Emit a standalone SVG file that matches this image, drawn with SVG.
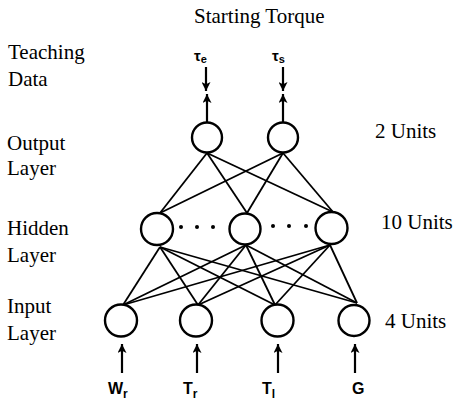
<svg xmlns="http://www.w3.org/2000/svg" width="453" height="403" viewBox="0 0 453 403">
<defs>
<marker id="ah" viewBox="0 0 10 10" refX="10" refY="5" markerWidth="12" markerHeight="9" markerUnits="userSpaceOnUse" orient="auto">
<path d="M0,0 L10,5 L0,10 L2.5,5 z" fill="#000"/>
</marker>
<style>
.lbl{font-family:"Liberation Serif","Times New Roman",serif;font-size:21px;fill:#000}
.sym{font-family:"Liberation Sans",Arial,sans-serif;font-weight:bold;fill:#000}
.node{fill:#fff;stroke:#000;stroke-width:2.4}
.edge{stroke:#000;stroke-width:1.8;fill:none}
.arr{stroke:#000;stroke-width:2.2;fill:none;marker-end:url(#ah)}
</style>
</defs>
<rect width="453" height="403" fill="#fff"/>
<g id="labels">
<text class="lbl" x="194" y="23">Starting Torque</text>
<text class="lbl" x="8" y="59">Teaching</text>
<text class="lbl" x="8" y="86">Data</text>
<text class="lbl" x="7" y="150">Output</text>
<text class="lbl" x="7" y="175">Layer</text>
<text class="lbl" x="7" y="235">Hidden</text>
<text class="lbl" x="7" y="262">Layer</text>
<text class="lbl" x="7" y="313">Input</text>
<text class="lbl" x="7" y="340">Layer</text>
<text class="lbl" x="375" y="138">2 Units</text>
<text class="lbl" x="381" y="229">10 Units</text>
<text class="lbl" x="385" y="328">4 Units</text>
</g>
<g id="connectors">
<line class="edge" x1="207" y1="153" x2="160" y2="213"/>
<line class="edge" x1="207" y1="153" x2="247" y2="213"/>
<line class="edge" x1="207" y1="153" x2="333" y2="212"/>
<line class="edge" x1="283" y1="153" x2="160" y2="213"/>
<line class="edge" x1="283" y1="153" x2="247" y2="213"/>
<line class="edge" x1="283" y1="153" x2="333" y2="212"/>
<line class="edge" x1="160" y1="247" x2="123" y2="305"/>
<line class="edge" x1="160" y1="247" x2="198" y2="305"/>
<line class="edge" x1="160" y1="247" x2="275" y2="305"/>
<line class="edge" x1="160" y1="247" x2="357" y2="303"/>
<line class="edge" x1="246" y1="245" x2="123" y2="305"/>
<line class="edge" x1="246" y1="245" x2="198" y2="305"/>
<line class="edge" x1="246" y1="245" x2="275" y2="305"/>
<line class="edge" x1="246" y1="245" x2="357" y2="303"/>
<line class="edge" x1="330" y1="245" x2="123" y2="305"/>
<line class="edge" x1="330" y1="245" x2="198" y2="305"/>
<line class="edge" x1="330" y1="245" x2="275" y2="305"/>
<line class="edge" x1="330" y1="245" x2="357" y2="303"/>
<line class="arr" x1="206" y1="67" x2="206" y2="91"/>
<line class="arr" x1="283" y1="67" x2="283" y2="91"/>
<line class="arr" x1="207" y1="122" x2="207" y2="94"/>
<line class="arr" x1="283" y1="122" x2="283" y2="94"/>
<line class="arr" x1="122" y1="373" x2="122" y2="344"/>
<line class="arr" x1="197" y1="373" x2="197" y2="344"/>
<line class="arr" x1="278" y1="373" x2="278" y2="344"/>
<line class="arr" x1="355" y1="373" x2="355" y2="344"/>
</g>
<g id="out1"><circle class="node" cx="207" cy="137.5" r="15"/></g>
<g id="out2"><circle class="node" cx="283" cy="137.5" r="15"/></g>
<g id="hid1"><circle class="node" cx="157" cy="229" r="16"/></g>
<g id="hid2"><circle class="node" cx="245" cy="229" r="15.5"/></g>
<g id="hid3"><circle class="node" cx="331.5" cy="228" r="16"/></g>
<g id="dots" fill="#000">
<circle cx="181" cy="227" r="2"/><circle cx="197" cy="227" r="2"/><circle cx="213" cy="227" r="2"/>
<circle cx="273" cy="226" r="2"/><circle cx="289" cy="226" r="2"/><circle cx="306" cy="226" r="2"/>
</g>
<g id="in1"><circle class="node" cx="121" cy="320.5" r="16"/></g>
<g id="in2"><circle class="node" cx="196" cy="320.5" r="16"/></g>
<g id="in3"><circle class="node" cx="277.5" cy="320.5" r="16"/></g>
<g id="in4"><circle class="node" cx="354" cy="320.5" r="15.5"/></g>
<g id="symbols">
<text class="sym" x="194" y="61" font-size="15">τ<tspan font-size="11" dy="2">e</tspan></text>
<text class="sym" x="272" y="61" font-size="15">τ<tspan font-size="11" dy="2">s</tspan></text>
<text class="sym" x="108" y="394" font-size="16">W<tspan font-size="12" dy="4">r</tspan></text>
<text class="sym" x="183" y="394" font-size="16">T<tspan font-size="12" dy="4">r</tspan></text>
<text class="sym" x="262" y="394" font-size="16">T<tspan font-size="12" dy="4">l</tspan></text>
<text class="sym" x="352" y="394" font-size="16">G</text>
</g>
</svg>
